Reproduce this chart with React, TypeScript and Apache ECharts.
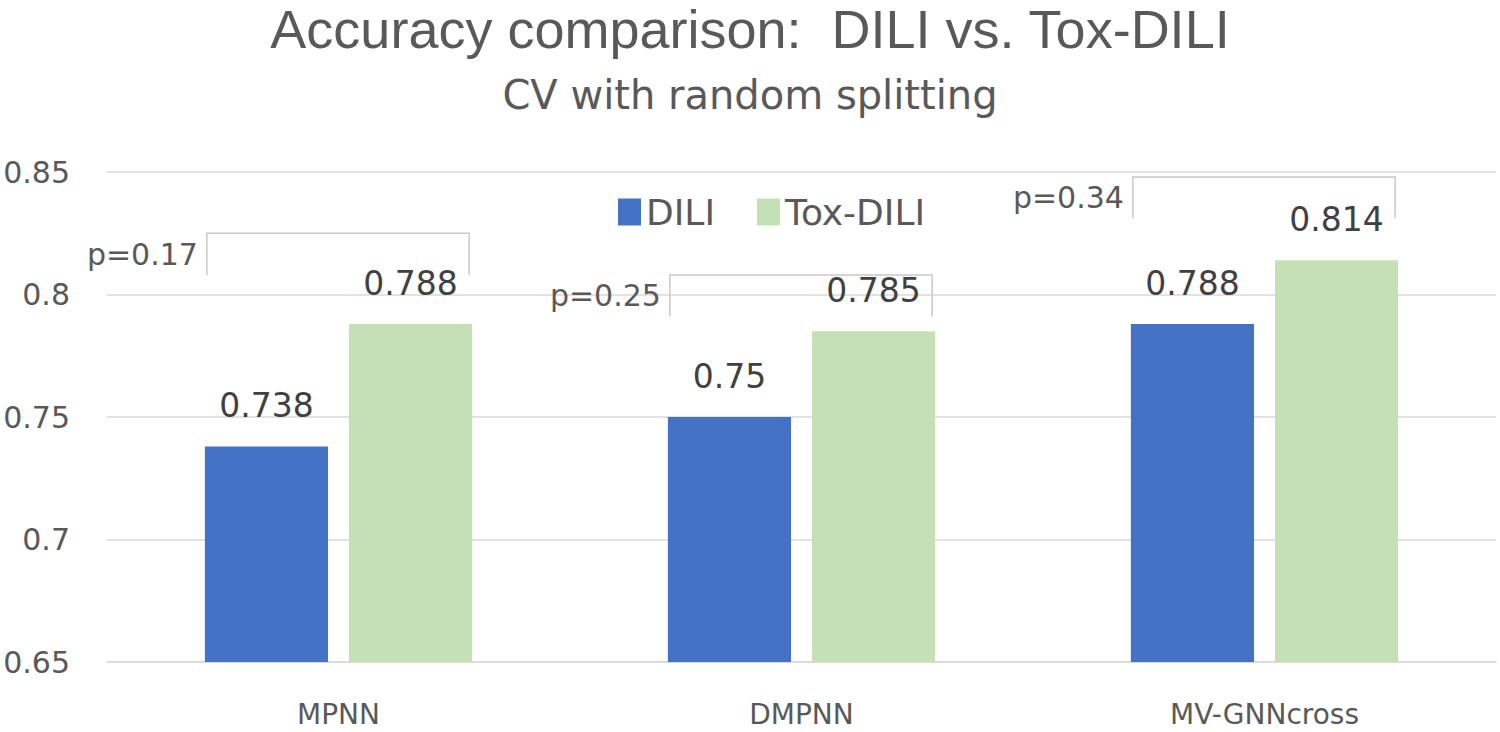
import React, { useEffect, useRef } from "react";
import * as echarts from "echarts";

const categories = ["MPNN", "DMPNN", "MV-GNNcross"];
const diliValues = [0.738, 0.75, 0.788];
const toxDiliValues = [0.788, 0.785, 0.814];
const pLabels = ["p=0.17", "p=0.25", "p=0.34"];
const bracketTop = [0.825, 0.808, 0.848];
const bracketBottom = [0.808, 0.791, 0.831];
const seriesNames = ["DILI", "Tox-DILI"];

const BAR_FRAC = 0.266;
const GAP_FRAC = 0.17;

export default function App() {
  const ref = useRef<HTMLDivElement>(null);
  useEffect(() => {
    document.body.style.margin = "0";
    const chart = echarts.init(ref.current!, null, { renderer: "svg" });
    const grey = "#595959";
    const labelFont = "DejaVu Sans";
    chart.setOption({
      animation: false,
      backgroundColor: "#ffffff",
      title: [
        {
          text: "Accuracy comparison:  DILI vs. Tox-DILI",
          left: "center",
          top: -3,
          textStyle: { fontFamily: "Liberation Sans", fontSize: 54, fontWeight: "normal", color: grey },
        },
        {
          text: "CV with random splitting",
          left: "center",
          top: 70,
          textStyle: { fontFamily: "DejaVu Sans", fontSize: 40, fontWeight: "normal", color: grey },
        },
      ],
      legend: {
        data: seriesNames,
        left: 613,
        top: 189,
        itemWidth: 23,
        itemHeight: 27,
        itemGap: 42,
        icon: "rect",
        textStyle: { fontFamily: labelFont, fontSize: 36, color: grey },
      },
      grid: { left: 107, right: 4, top: 172, bottom: 70 },
      xAxis: {
        type: "category",
        data: categories,
        axisLine: { show: true, lineStyle: { color: "#d9d9d9", width: 1.5 } },
        axisTick: { show: false },
        axisLabel: { fontFamily: labelFont, fontSize: 28, color: grey, margin: 38 },
      },
      yAxis: {
        type: "value",
        min: 0.65,
        max: 0.85,
        interval: 0.05,
        axisLine: { show: false },
        axisTick: { show: false },
        splitLine: { lineStyle: { color: "#d9d9d9", width: 1.5 } },
        axisLabel: { fontFamily: labelFont, fontSize: 30, color: grey, margin: 37 },
      },
      series: [
        {
          name: seriesNames[0],
          type: "bar",
          data: diliValues,
          barWidth: BAR_FRAC * 100 + "%",
          barGap: GAP_FRAC * 100 + "%",
          itemStyle: { color: "#4472C4" },
          label: {
            show: true,
            position: "top",
            distance: 24,
            fontFamily: labelFont,
            fontSize: 33,
            color: "#404040",
          },
        },
        {
          name: seriesNames[1],
          type: "bar",
          data: toxDiliValues,
          barWidth: BAR_FRAC * 100 + "%",
          barGap: GAP_FRAC * 100 + "%",
          itemStyle: { color: "#C5E0B4" },
          label: {
            show: true,
            position: "top",
            distance: 24,
            fontFamily: labelFont,
            fontSize: 33,
            color: "#404040",
          },
        },
        {
          name: "brackets",
          type: "custom",
          clip: false,
          z: 10,
          data: categories.map((_, i) => [i, bracketTop[i], bracketBottom[i]]),
          encode: { x: 0, y: [1, 2] },
          renderItem: (params: any, api: any) => {
            const idx = api.value(0);
            const top = api.coord([idx, api.value(1)]);
            const bot = api.coord([idx, api.value(2)]);
            const band = api.size([1, 0])[0];
            const half = BAR_FRAC * band * (2 + GAP_FRAC) / 2;
            const x0 = top[0] - half + 2;
            const x1 = top[0] + half - 3;
            return {
              type: "group",
              children: [
                {
                  type: "polyline",
                  shape: { points: [[x0, bot[1]], [x0, top[1]], [x1, top[1]], [x1, bot[1]]] },
                  style: { stroke: "#c8c8c8", lineWidth: 1.5, fill: "none" },
                },
                {
                  type: "text",
                  x: x0 - 9,
                  y: (top[1] + bot[1]) / 2,
                  style: {
                    text: pLabels[params.dataIndex],
                    align: "right",
                    verticalAlign: "middle",
                    fontFamily: labelFont,
                    fontSize: 30,
                    fill: grey,
                  },
                },
              ],
            };
          },
        },
      ],
    });
    return () => chart.dispose();
  }, []);
  return <div ref={ref} style={{ width: 1500, height: 732 }} />;
}
